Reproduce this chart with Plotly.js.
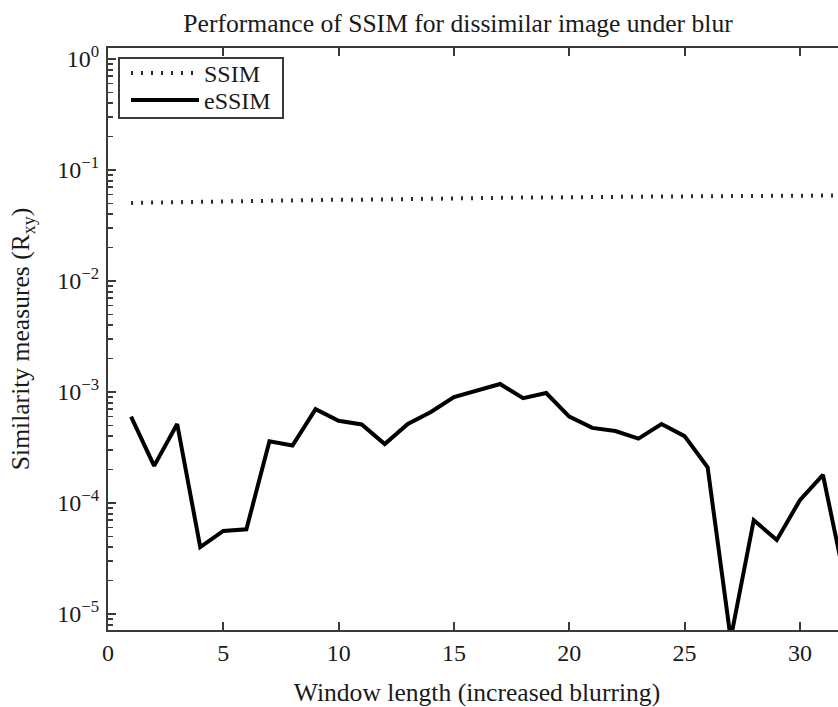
<!DOCTYPE html>
<html>
<head>
<meta charset="utf-8">
<script src="https://cdn.plot.ly/plotly-3.0.1.min.js"></script>
<style>
  html, body { margin: 0; padding: 0; overflow: hidden; background: #fff; }
  #chart { width: 860px; height: 707px; }
</style>
</head>
<body>
<div id="chart"></div>
<script>
// ---- data ----
const windowLength = [1,2,3,4,5,6,7,8,9,10,11,12,13,14,15,16,17,18,19,20,21,22,23,24,25,26,27,28,29,30,31,32];
const ssimValues = [0.0505, 0.051, 0.0515, 0.052, 0.052, 0.0525, 0.053, 0.053, 0.0535, 0.054, 0.054,
                    0.0545, 0.055, 0.055, 0.0555, 0.056, 0.056, 0.0565, 0.0565, 0.057, 0.057, 0.0572,
                    0.0575, 0.0577, 0.058, 0.058, 0.0582, 0.0585, 0.0585, 0.0587, 0.059, 0.059];
const essimValues = [6.0e-4, 2.16e-4, 5.15e-4, 4.0e-5, 5.6e-5, 5.8e-5, 3.6e-4, 3.3e-4, 7.0e-4, 5.5e-4,
                     5.1e-4, 3.4e-4, 5.15e-4, 6.6e-4, 9.0e-4, 1.04e-3, 1.18e-3, 8.8e-4, 9.8e-4, 6.0e-4,
                     4.75e-4, 4.45e-4, 3.8e-4, 5.15e-4, 4.0e-4, 2.1e-4, 6.0e-6, 7.0e-5, 4.65e-5, 1.06e-4,
                     1.79e-4, 1.8e-5];
const seriesNames = ['SSIM', 'eSSIM'];
const xTickVals = [0, 5, 10, 15, 20, 25, 30];
const yTickVals = [1, 0.1, 0.01, 0.001, 0.0001, 0.00001];
const yTickText = ['10<sup>0</sup>', '10<sup>\u22121</sup>', '10<sup>\u22122</sup>',
                   '10<sup>\u22123</sup>', '10<sup>\u22124</sup>', '10<sup>\u22125</sup>'];
const titleText = 'Performance of SSIM for dissimilar image under blur';
const xTitleText = 'Window length (increased blurring)';
const yTitleText = 'Similarity measures (R<sub>xy</sub>)';

// minor log tick positions: 2..9 within each decade
const yMinorVals = [];
for (let e = -6; e <= 0; e++) {
  for (let m = 2; m <= 9; m++) yMinorVals.push(m * Math.pow(10, e));
}

const FONT = '"Liberation Serif", "Times New Roman", serif';
const AXC = '#3a3a3a';
const TXT = '#1a1a1a';

// plot-area geometry (pixels) used only to place the legend boxes
const PL = 108, PW = 738, PT = 48, PH = 582;
const px2x = function (p) { return (p - PL) / PW; };
const px2y = function (p) { return (PT + PH - p) / PH; };

const traces = [
  {
    x: windowLength, y: ssimValues, name: seriesNames[0], type: 'scatter', mode: 'lines',
    line: { color: '#2a2a2a', width: 4, dash: '2px,8px' }, legend: 'legend'
  },
  {
    x: windowLength, y: essimValues, name: seriesNames[1], type: 'scatter', mode: 'lines',
    line: { color: '#000000', width: 4 }, legend: 'legend2'
  }
];

const legendCommon = {
  xanchor: 'left', yanchor: 'top', bgcolor: 'rgba(0,0,0,0)', borderwidth: 0,
  font: { family: FONT, size: 24, color: TXT }, itemwidth: 68
};

const layout = {
  width: 860, height: 707,
  margin: { l: PL, r: 860 - PL - PW, t: PT, b: 707 - PT - PH },
  paper_bgcolor: '#ffffff', plot_bgcolor: '#ffffff',
  font: { family: FONT, color: TXT, size: 24 },
  title: {
    text: titleText, font: { family: FONT, size: 25.6, color: TXT },
    xref: 'container', yref: 'container', x: 458 / 860, xanchor: 'center',
    y: 1 - 23 / 707, yanchor: 'middle'
  },
  showlegend: true,
  legend: Object.assign({}, legendCommon, { x: px2x(126), y: px2y(51) }),
  legend2: Object.assign({}, legendCommon, { x: px2x(126), y: px2y(78) }),
  shapes: [{
    type: 'rect', xref: 'paper', yref: 'paper', layer: 'above',
    x0: px2x(119), x1: px2x(283), y0: px2y(118), y1: px2y(58),
    line: { color: AXC, width: 2 }, fillcolor: '#ffffff'
  }],
  xaxis: {
    range: [0, 32], tickmode: 'array', tickvals: xTickVals,
    ticks: 'inside', ticklen: 8, tickwidth: 2, tickcolor: AXC,
    showline: true, linecolor: AXC, linewidth: 2, mirror: 'allticks',
    showgrid: false, zeroline: false,
    tickfont: { family: FONT, size: 24, color: TXT },
    ticklabelstandoff: 0,
    title: { text: xTitleText, font: { family: FONT, size: 25.6, color: TXT }, standoff: 20 }
  },
  yaxis: {
    type: 'log', range: [-5.144, 0.099],
    tickmode: 'array', tickvals: yTickVals, ticktext: yTickText,
    ticks: 'inside', ticklen: 8, tickwidth: 2, tickcolor: AXC,
    minor: { tickvals: yMinorVals, ticks: 'inside', ticklen: 5, tickwidth: 1.5, tickcolor: AXC, showgrid: false },
    showline: true, linecolor: AXC, linewidth: 2, mirror: 'allticks',
    showgrid: false, zeroline: false,
    tickfont: { family: FONT, size: 24, color: TXT },
    ticklabelstandoff: 2,
    title: { text: yTitleText, font: { family: FONT, size: 25.6, color: TXT }, standoff: 20 }
  }
};

Plotly.newPlot('chart', traces, layout, { displayModeBar: false, staticPlot: true });
</script>
</body>
</html>
